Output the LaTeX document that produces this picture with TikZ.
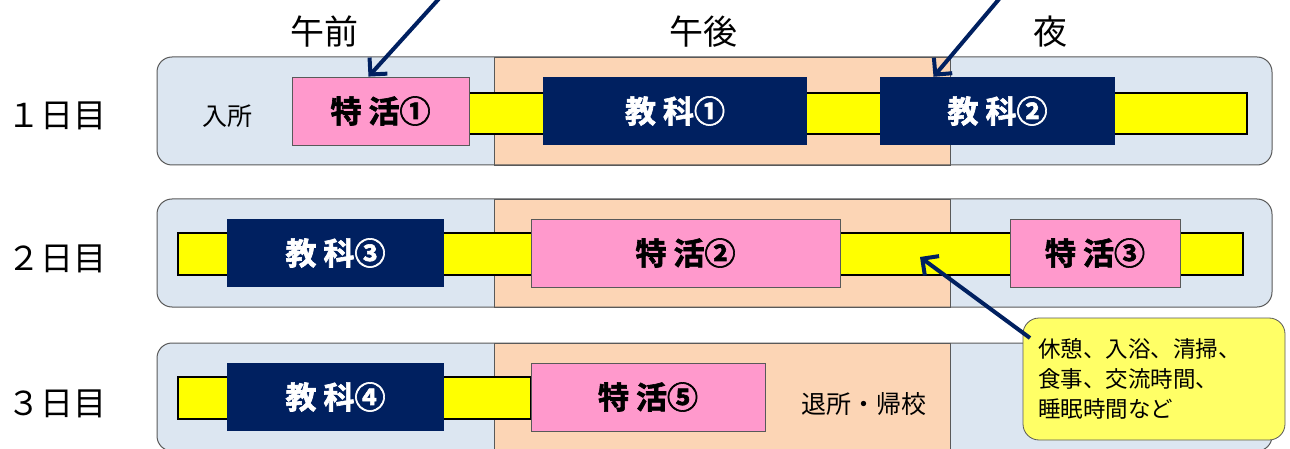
\documentclass[tikz,border=0pt]{standalone}
\usepackage{fontspec}
\usetikzlibrary{arrows.meta}
\newfontfamily\jp{Noto Sans CJK JP}
\newfontfamily\jpb{Noto Sans CJK JP Bold}[FakeBold=2]
\definecolor{navyc}{HTML}{002060}
\definecolor{pinkc}{HTML}{FF99CC}
\definecolor{lblue}{HTML}{DCE6F1}
\definecolor{peach}{HTML}{FCD5B5}
\definecolor{callc}{HTML}{FFFF66}
\definecolor{ybarc}{HTML}{FFFF00}
\definecolor{edgec}{HTML}{595959}
\tikzset{
  midpart/.style={fill=peach, draw=edgec, line width=0.8pt},
  ybar/.style={fill=ybarc, draw=black, line width=1.6pt},
  navybox/.style={fill=navyc, draw=none, minimum height=68pt, inner sep=0pt, text=white, font=\jpb\fontsize{31}{31}\selectfont},
  pinkbox/.style={fill=pinkc, draw=edgec, line width=0.8pt, minimum height=68pt, inner sep=0pt, text=black, font=\jpb\fontsize{31}{31}\selectfont},
  head/.style={font=\jp\fontsize{34}{34}\selectfont},
  daylab/.style={font=\jp\fontsize{33}{33}\selectfont},
  plain/.style={font=\jp\fontsize{25}{25}\selectfont},
  callout/.style={fill=callc, draw=edgec, line width=0.8pt, rounded corners=16pt, minimum width=262pt, minimum height=122pt, align=left, text width=232pt, font=\jp\fontsize{22.5}{30}\selectfont},
  pointer/.style={draw=navyc, line width=4pt, -{Straight Barb[length=12pt,width=24pt,line width=4pt]}}
}
\begin{document}
\begin{tikzpicture}[x=1pt,y=-1pt]
\useasboundingbox (0,0) rectangle (1290,449);
\clip (0,0) rectangle (1290,449);
% headings
\node[head] (am) at (324,32) {午前};
\node[head] (pm) at (703,32) {午後};
\node[head] (nt) at (1050,32) {夜};
\node[daylab] (d1) at (57,116) {１日目};
\node[daylab] (d2) at (57,259) {２日目};
\node[daylab] (d3) at (57,404) {３日目};
% row frames
\foreach \t in {57,199,343}{
  \fill[lblue, rounded corners=15pt] (157,\t) rectangle (1272,\t+108);
  \draw[midpart] (494,\t) rectangle (950,\t+108);
  \draw[edgec, line width=1pt, rounded corners=15pt] (157,\t) rectangle (1272,\t+108);
}
% yellow bars
\draw[ybar] (400,93) rectangle (1247,134);
\draw[ybar] (178,233) rectangle (1243,275);
\draw[ybar] (178,377) rectangle (531,419);
% row 1
\node[plain] (in) at (227,116) {入所};
\node[pinkbox, minimum width=177pt] (t1) at (380.5,111) {特 活①};
\node[navybox, minimum width=264pt] (k1) at (675,111) {教 科①};
\node[navybox, minimum width=235pt] (k2) at (997.5,111) {教 科②};
% row 2
\node[navybox, minimum width=217pt] (k3) at (335.5,253) {教 科③};
\node[pinkbox, minimum width=309pt] (t2) at (685.5,253) {特 活②};
\node[pinkbox, minimum width=170pt] (t3) at (1095,253) {特 活③};
% row 3
\node[navybox, minimum width=217pt] (k4) at (335.5,397) {教 科④};
\node[pinkbox, minimum width=234pt] (t5) at (648,397) {特 活⑤};
\node[plain] (out) at (864,404) {退所・帰校};
% callout
\node[callout] (call) at (1154,379) {休憩、入浴、清掃、\\食事、交流時間、\\睡眠時間など};
% pointers
\coordinate (s1) at (445,-8);
\coordinate (s2) at (1005,-8);
\coordinate (e3) at (920,257);
\coordinate (s3) at (1030,338);
\draw[pointer] (s1) -- ([xshift=-12pt]t1.north);
\draw[pointer] (s2) -- ([xshift=-64pt]k2.north);
\draw[pointer] (s3) -- (e3);
\end{tikzpicture}
\end{document}
